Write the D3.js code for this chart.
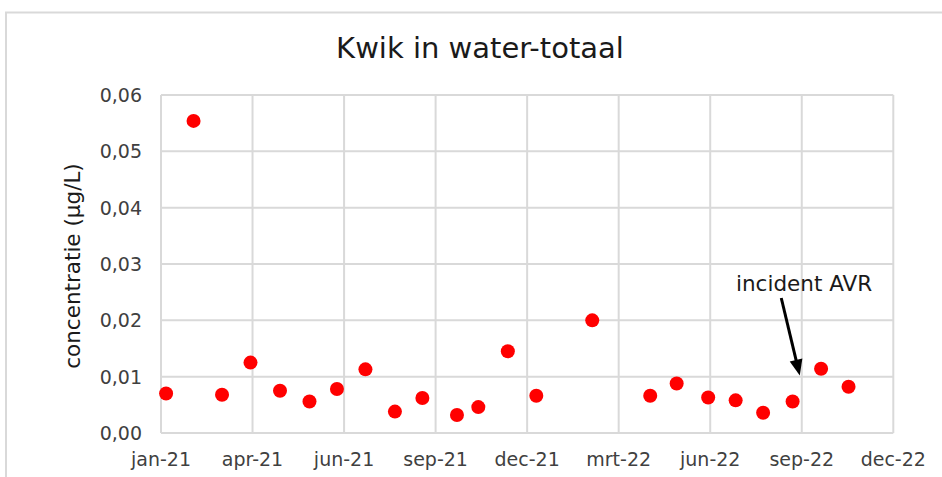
<!DOCTYPE html>
<html>
<head>
<meta charset="utf-8">
<script src="https://cdn.jsdelivr.net/npm/d3@7"></script>
<style>
  html, body { margin: 0; padding: 0; background: #fff; }
  svg { display: block; font-family: "DejaVu Sans", Verdana, sans-serif; }
</style>
</head>
<body>
<svg id="chart" width="942" height="477"></svg>
<script>
// Kwik in water-totaal — scatter of measurements over time

const sampleDates = [
  '2021-01-06', '2021-02-02', '2021-03-02', '2021-03-30', '2021-04-28',
  '2021-05-27', '2021-06-23', '2021-07-21', '2021-08-19', '2021-09-15',
  '2021-10-19', '2021-11-09', '2021-12-08', '2022-01-05', '2022-03-01',
  '2022-04-27', '2022-05-23', '2022-06-23', '2022-07-20', '2022-08-16',
  '2022-09-14', '2022-10-12', '2022-11-08'
];
const concentrations = [
  0.0070, 0.0554, 0.0068, 0.0125, 0.0075,
  0.0056, 0.0078, 0.0113, 0.0038, 0.0062,
  0.0032, 0.0046, 0.0145, 0.0066, 0.0200,
  0.0066, 0.0088, 0.0063, 0.0058, 0.0036,
  0.0056, 0.0114, 0.0082
];

// Excel date axis: major unit of 90 days
const tickDates = [
  '2021-01-01', '2021-04-01', '2021-06-30', '2021-09-28', '2021-12-27',
  '2022-03-27', '2022-06-25', '2022-09-23', '2022-12-22'
];
const tickLabels = ['jan-21', 'apr-21', 'jun-21', 'sep-21', 'dec-21', 'mrt-22', 'jun-22', 'sep-22', 'dec-22'];
const yTicks = [0, 0.01, 0.02, 0.03, 0.04, 0.05, 0.06];

const annotation = { label: 'incident AVR', date: '2022-09-23', value: 0.0102 };

const parse = d3.utcParse('%Y-%m-%d');
const nl = d3.formatLocale({ decimal: ',', thousands: '.', grouping: [3], currency: ['€', ''] });
const fmt = nl.format('.2f');

const svg = d3.select('#chart');
const plot = { left: 161, right: 893.3, top: 95, bottom: 433 };
const grid = '#d9d9d9';

const x = d3.scaleUtc()
  .domain([parse(tickDates[0]), parse(tickDates[tickDates.length - 1])])
  .range([plot.left, plot.right]);
const y = d3.scaleLinear().domain([0, 0.06]).range([plot.bottom, plot.top]);

// outer chart frame
svg.append('rect')
  .attr('x', 6).attr('y', 12.5)
  .attr('width', 960).attr('height', 500)
  .attr('fill', 'none').attr('stroke', grid).attr('stroke-width', 2);

// title
svg.append('text')
  .attr('x', 480).attr('y', 58)
  .attr('text-anchor', 'middle')
  .attr('font-size', 29)
  .attr('fill', '#1a1a1a')
  .text('Kwik in water-totaal');

// gridlines
svg.append('g').selectAll('line').data(yTicks).join('line')
  .attr('x1', plot.left).attr('x2', plot.right)
  .attr('y1', d => y(d)).attr('y2', d => y(d))
  .attr('stroke', grid).attr('stroke-width', 2);

svg.append('g').selectAll('line').data(tickDates).join('line')
  .attr('x1', d => x(parse(d))).attr('x2', d => x(parse(d)))
  .attr('y1', plot.top).attr('y2', plot.bottom)
  .attr('stroke', grid).attr('stroke-width', 2);

// y tick labels
svg.append('g').selectAll('text').data(yTicks).join('text')
  .attr('x', 142).attr('y', d => y(d))
  .attr('dy', '0.36em')
  .attr('text-anchor', 'end')
  .attr('font-size', 19)
  .attr('fill', '#404040')
  .text(d => fmt(d));

// x tick labels
svg.append('g').selectAll('text').data(tickDates).join('text')
  .attr('x', d => x(parse(d))).attr('y', 466)
  .attr('text-anchor', 'middle')
  .attr('font-size', 19)
  .attr('fill', '#404040')
  .text((d, i) => tickLabels[i]);

// y axis title
svg.append('text')
  .attr('transform', 'translate(80,266) rotate(-90)')
  .attr('text-anchor', 'middle')
  .attr('font-size', 21.5)
  .attr('fill', '#1a1a1a')
  .text('concentratie (µg/L)');

// points
svg.append('g').selectAll('circle').data(sampleDates).join('circle')
  .attr('cx', d => x(parse(d)))
  .attr('cy', (d, i) => y(concentrations[i]))
  .attr('r', 7)
  .attr('fill', '#ff0000');

// annotation arrow (line + filled head)
const tip = [x(parse(annotation.date)) - 2, y(annotation.value)];
const tail = [tip[0] - 18.5, 298];
const len = Math.hypot(tip[0] - tail[0], tip[1] - tail[1]);
const ux = (tip[0] - tail[0]) / len, uy = (tip[1] - tail[1]) / len;
const headLen = 16, headHalf = 6.5;
const base = [tip[0] - ux * headLen, tip[1] - uy * headLen];

svg.append('line')
  .attr('x1', tail[0]).attr('y1', tail[1])
  .attr('x2', base[0] + ux * 2).attr('y2', base[1] + uy * 2)
  .attr('stroke', '#000').attr('stroke-width', 3);

svg.append('path')
  .attr('d', d3.line()([
    tip,
    [base[0] - uy * headHalf, base[1] + ux * headHalf],
    [base[0] + uy * headHalf, base[1] - ux * headHalf]
  ]) + 'Z')
  .attr('fill', '#000');

svg.append('text')
  .attr('x', 736).attr('y', 291)
  .attr('font-size', 21.5)
  .attr('fill', '#1a1a1a')
  .text(annotation.label);
</script>
</body>
</html>
